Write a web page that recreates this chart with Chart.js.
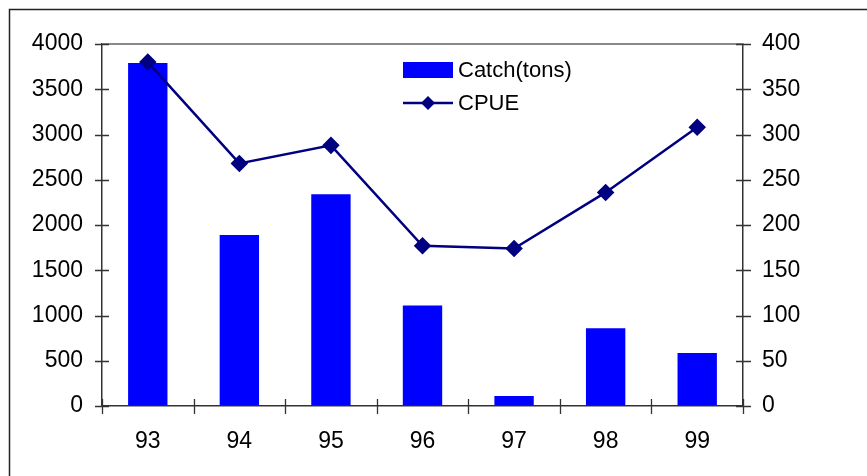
<!DOCTYPE html>
<html>
<head>
<meta charset="utf-8">
<script src="https://cdn.jsdelivr.net/npm/chart.js@4/dist/chart.umd.min.js"></script>
<style>
  html, body { margin: 0; padding: 0; background: #ffffff; }
  #wrap { width: 867px; height: 476px; position: relative; }
</style>
</head>
<body>
<div id="wrap"><canvas id="c" width="867" height="476"></canvas></div>
<script>
const categories = ['93', '94', '95', '96', '97', '98', '99'];
const catchTons = [3790, 1890, 2340, 1110, 110, 860, 585];
const cpue = [380, 268, 288, 177, 174, 236, 308];
const leftTicks = [0, 500, 1000, 1500, 2000, 2500, 3000, 3500, 4000];
const rightTicks = [0, 50, 100, 150, 200, 250, 300, 350, 400];

const FONT = '"Liberation Sans", Arial, sans-serif';
const AXIS = '#333333';
const TICK_SIZE = 23;

const decorPlugin = {
  id: 'decor',
  beforeDraw(chart) {
    const ctx = chart.ctx;
    ctx.save();
    ctx.fillStyle = '#ffffff';
    ctx.fillRect(0, 0, chart.width, chart.height);
    ctx.strokeStyle = '#222222';
    ctx.lineWidth = 1.5;
    ctx.beginPath();
    ctx.moveTo(9.5, chart.height + 5);
    ctx.lineTo(9.5, 9.5);
    ctx.lineTo(chart.width + 5, 9.5);
    ctx.stroke();
    ctx.restore();
  },
  afterDraw(chart) {
    const ctx = chart.ctx;
    const a = chart.chartArea;
    const x = chart.scales.x, y = chart.scales.y, y1 = chart.scales.y1;
    ctx.save();
    ctx.strokeStyle = '#888888';
    ctx.lineWidth = 2;
    ctx.beginPath();
    ctx.moveTo(a.left, a.top);
    ctx.lineTo(a.right, a.top);
    ctx.stroke();
    ctx.strokeStyle = AXIS;
    ctx.lineWidth = 1.3;
    ctx.beginPath();
    y.ticks.forEach(t => {
      const py = Math.round(y.getPixelForValue(t.value)) + 0.5;
      ctx.moveTo(a.left - 7, py); ctx.lineTo(a.left + 7, py);
    });
    y1.ticks.forEach(t => {
      const py = Math.round(y1.getPixelForValue(t.value)) + 0.5;
      ctx.moveTo(a.right - 7, py); ctx.lineTo(a.right + 8, py);
    });
    const n = categories.length;
    for (let i = 0; i <= n; i++) {
      let px;
      if (i === 0) px = a.left;
      else if (i === n) px = a.right;
      else px = (x.getPixelForValue(i - 1) + x.getPixelForValue(i)) / 2;
      px = Math.round(px) + 0.5;
      ctx.moveTo(px, a.bottom - 7); ctx.lineTo(px, a.bottom + 8);
    }
    ctx.stroke();

    const lx = a.left + 301, ly1 = a.top + 26, ly2 = a.top + 59;
    ctx.fillStyle = '#0000ff';
    ctx.fillRect(lx, ly1 - 8, 50, 16);
    ctx.strokeStyle = '#000080';
    ctx.lineWidth = 2.5;
    ctx.beginPath();
    ctx.moveTo(lx, ly2); ctx.lineTo(lx + 50, ly2);
    ctx.stroke();
    ctx.fillStyle = '#000080';
    ctx.beginPath();
    ctx.moveTo(lx + 25, ly2 - 7); ctx.lineTo(lx + 32, ly2);
    ctx.lineTo(lx + 25, ly2 + 7); ctx.lineTo(lx + 18, ly2);
    ctx.closePath(); ctx.fill();
    ctx.fillStyle = '#000000';
    ctx.font = '22px ' + FONT;
    ctx.textBaseline = 'middle';
    ctx.textAlign = 'left';
    ctx.fillText('Catch(tons)', lx + 55, ly1 + 1);
    ctx.fillText('CPUE', lx + 55, ly2 + 1);
    ctx.restore();
  }
};

const plain = v => String(v);

new Chart(document.getElementById('c'), {
  type: 'bar',
  data: {
    labels: categories,
    datasets: [
      {
        type: 'line',
        label: 'CPUE',
        data: cpue,
        yAxisID: 'y1',
        borderColor: '#000080',
        backgroundColor: '#000080',
        borderWidth: 2.5,
        pointStyle: 'rectRot',
        pointRadius: 7,
        pointHoverRadius: 7,
        pointBackgroundColor: '#000080',
        pointBorderColor: '#000080',
        tension: 0,
        order: 1
      },
      {
        type: 'bar',
        label: 'Catch(tons)',
        data: catchTons,
        yAxisID: 'y',
        backgroundColor: '#0000ff',
        borderWidth: 0,
        barPercentage: 0.43,
        categoryPercentage: 1.0,
        order: 2
      }
    ]
  },
  options: {
    responsive: false,
    animation: false,
    devicePixelRatio: 1,
    layout: { padding: { top: 44, left: 0, right: 0, bottom: 0 } },
    plugins: { legend: { display: false }, tooltip: { enabled: false } },
    scales: {
      x: {
        offset: true,
        grid: { display: true, drawOnChartArea: false, drawTicks: false, offset: true, color: 'rgba(0,0,0,0)' },
        border: { display: true, color: AXIS, width: 1.5 },
        ticks: { color: '#000', font: { family: FONT, size: TICK_SIZE }, padding: 22, maxRotation: 0 },
        afterFit(s) { s.height = 70; }
      },
      y: {
        position: 'left',
        min: 0, max: 4000,
        afterBuildTicks(s) { s.ticks = leftTicks.map(v => ({ value: v })); },
        grid: { display: true, drawOnChartArea: false, drawTicks: false, color: 'rgba(0,0,0,0)' },
        border: { display: true, color: AXIS, width: 1.5 },
        ticks: { color: '#000', font: { family: FONT, size: TICK_SIZE }, padding: 19, callback: plain },
        afterFit(s) { s.width = 102; }
      },
      y1: {
        position: 'right',
        min: 0, max: 400,
        afterBuildTicks(s) { s.ticks = rightTicks.map(v => ({ value: v })); },
        grid: { display: true, drawOnChartArea: false, drawTicks: false, color: 'rgba(0,0,0,0)' },
        border: { display: true, color: AXIS, width: 1.5 },
        ticks: { color: '#000', font: { family: FONT, size: TICK_SIZE }, padding: 19, callback: plain },
        afterFit(s) { s.width = 124; }
      }
    }
  },
  plugins: [decorPlugin]
});
</script>
</body>
</html>
